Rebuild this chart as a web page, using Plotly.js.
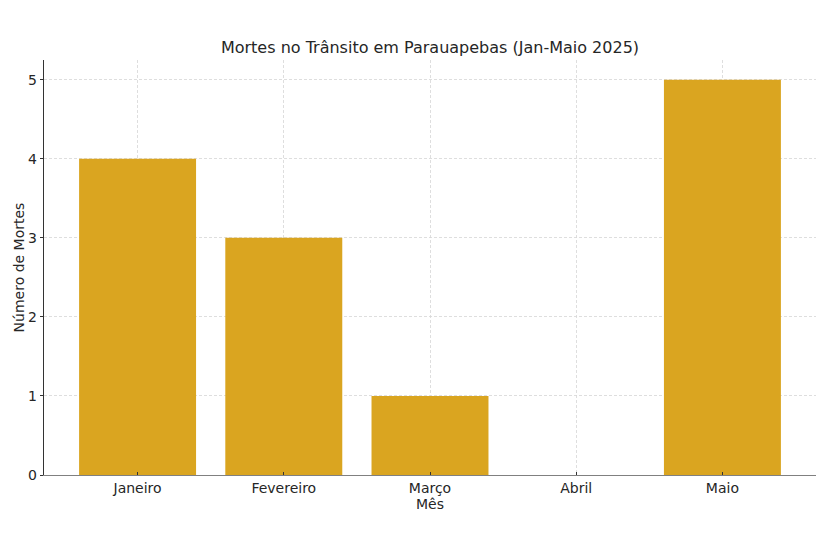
<!DOCTYPE html>
<html>
<head>
<meta charset="utf-8">
<script src="https://cdn.plot.ly/plotly-3.0.1.min.js"></script>
<style>html,body{margin:0;padding:0;background:#fff;}#chart{width:828px;height:548px;}</style>
</head>
<body>
<div id="chart"></div>
<script>
const months = ["Janeiro", "Fevereiro", "Março", "Abril", "Maio"];
const deaths = [4, 3, 1, 0, 5];
const yTicks = [0, 1, 2, 3, 4, 5];

const font = "DejaVu Sans, sans-serif";
const trace = {
  type: "bar",
  x: months,
  y: deaths,
  marker: {color: "#DAA520", line: {width: 0}},
  width: 0.8,
  hoverinfo: "x+y"
};
const layout = {
  width: 828, height: 548,
  margin: {l: 44, r: 12, t: 60, b: 73},
  paper_bgcolor: "#fff", plot_bgcolor: "#fff",
  font: {family: font, color: "#262626", size: 14},
  showlegend: false,
  title: {text: "Mortes no Trânsito em Parauapebas (Jan-Maio 2025)", font: {size: 16, family: font, color: "#262626"}, x: 0.5, xref: "paper", xanchor: "center", y: 1, yref: "container", yanchor: "top", pad: {t: 42}},
  xaxis: {
    range: [-0.64, 4.64],
    showgrid: true, gridcolor: "#d6d6d6", griddash: "3px,2px", gridwidth: 0.8,
    showline: true, linecolor: "#808080", linewidth: 1.2,
    ticks: "inside", ticklen: 3.5, tickcolor: "#333", tickwidth: 1,
    tickfont: {size: 14, family: font, color: "#262626"},
    title: {text: "Mês", font: {size: 14, family: font, color: "#262626"}, standoff: 1},
    zeroline: false, fixedrange: true
  },
  yaxis: {
    range: [0, 5.25],
    tickvals: yTicks,
    showgrid: true, gridcolor: "#d6d6d6", griddash: "3px,2px", gridwidth: 0.8,
    showline: true, linecolor: "#333", linewidth: 1.2,
    ticks: "outside", ticklen: 3, tickcolor: "#333", tickwidth: 1,
    tickfont: {size: 14, family: font, color: "#262626"},
    title: {text: "Número de Mortes", font: {size: 14, family: font, color: "#262626"}, standoff: 0},
    zeroline: false, fixedrange: true
  }
};
Plotly.newPlot("chart", [trace], layout, {displayModeBar: false, staticPlot: true});
</script>
</body>
</html>
